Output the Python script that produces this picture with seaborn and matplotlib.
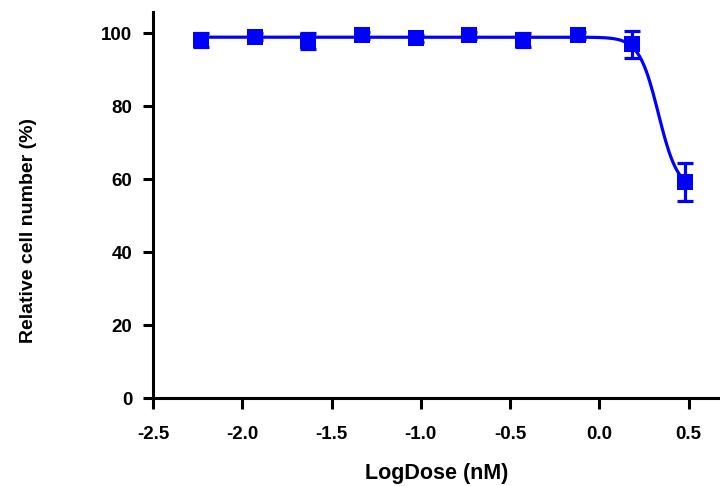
import numpy as np
import pandas as pd
import matplotlib
matplotlib.use("Agg")
import matplotlib.pyplot as plt
import seaborn as sns

# log dose (nM) and response (% of control), mean +/- error
log_dose = [-2.23, -1.93, -1.63, -1.33, -1.03, -0.73, -0.43, -0.12, 0.18, 0.48]
response = [98.1, 99.0, 97.9, 99.4, 98.6, 99.4, 98.1, 99.4, 97.0, 59.3]
err = [2.0, 1.0, 2.2, 1.0, 1.0, 1.0, 2.0, 1.0, 3.7, 5.2]

# fitted dose-response curve parameters
fit_top = 98.9
fit_bottom = 57.0
fit_logic50 = 0.33
fit_hill = 8.0

blue = "#0000ff"

sns.set_style("ticks")
plt.rcParams['font.family'] = ['Liberation Sans', 'DejaVu Sans']
plt.rcParams['font.weight'] = 'bold'
plt.rcParams['text.color'] = 'black'
plt.rcParams['xtick.color'] = 'black'
plt.rcParams['ytick.color'] = 'black'
plt.rcParams['axes.labelcolor'] = 'black'

df = pd.DataFrame({'LogDose': log_dose, 'Response': response, 'err': err})

xs = np.linspace(min(log_dose), max(log_dose), 300)
curve = pd.DataFrame({
    'LogDose': xs,
    'Response': fit_bottom + (fit_top - fit_bottom) / (1 + 10 ** ((xs - fit_logic50) * fit_hill)),
})

fig = plt.figure(figsize=(7.2, 4.86), dpi=100)
ax = fig.add_axes([153 / 720, 1 - 398 / 486, 1 - 153 / 720, (398 - 12) / 486])

sns.lineplot(data=curve, x='LogDose', y='Response', ax=ax, color=blue, linewidth=2.3)
ax.errorbar(df['LogDose'], df['Response'], yerr=df['err'], fmt='none',
            ecolor=blue, elinewidth=2.3, capsize=5.8, capthick=2.3)
sns.scatterplot(data=df, x='LogDose', y='Response', ax=ax, marker='s', s=145,
                color=blue, edgecolor=blue, linewidth=0, zorder=5)

ax.set_xlim(-2.5, 0.675)
ax.set_ylim(0, 105.8)
ax.set_xticks([-2.5, -2.0, -1.5, -1.0, -0.5, 0.0, 0.5])
ax.set_xticklabels(['-2.5', '-2.0', '-1.5', '-1.0', '-0.5', '0.0', '0.5'])
ax.set_yticks([0, 20, 40, 60, 80, 100])

for s in ['top', 'right']:
    ax.spines[s].set_visible(False)
for s in ['left', 'bottom']:
    ax.spines[s].set_linewidth(2.2)
    ax.spines[s].set_color('black')

ax.tick_params(axis='x', length=8, width=2.2, labelsize=13.5, pad=12)
ax.tick_params(axis='y', length=7, width=2.2, labelsize=13.5, pad=8)
for lab in ax.get_xticklabels() + ax.get_yticklabels():
    lab.set_fontweight('bold')

ax.set_xlabel('LogDose (nM)', fontsize=15.5, fontweight='bold')
ax.set_ylabel('Relative cell number (%)', fontsize=14, fontweight='bold')
ax.xaxis.set_label_coords(0.501, -0.168)
ax.yaxis.set_label_coords(-0.205, 0.435)

fig.savefig('out.png', dpi=100)
